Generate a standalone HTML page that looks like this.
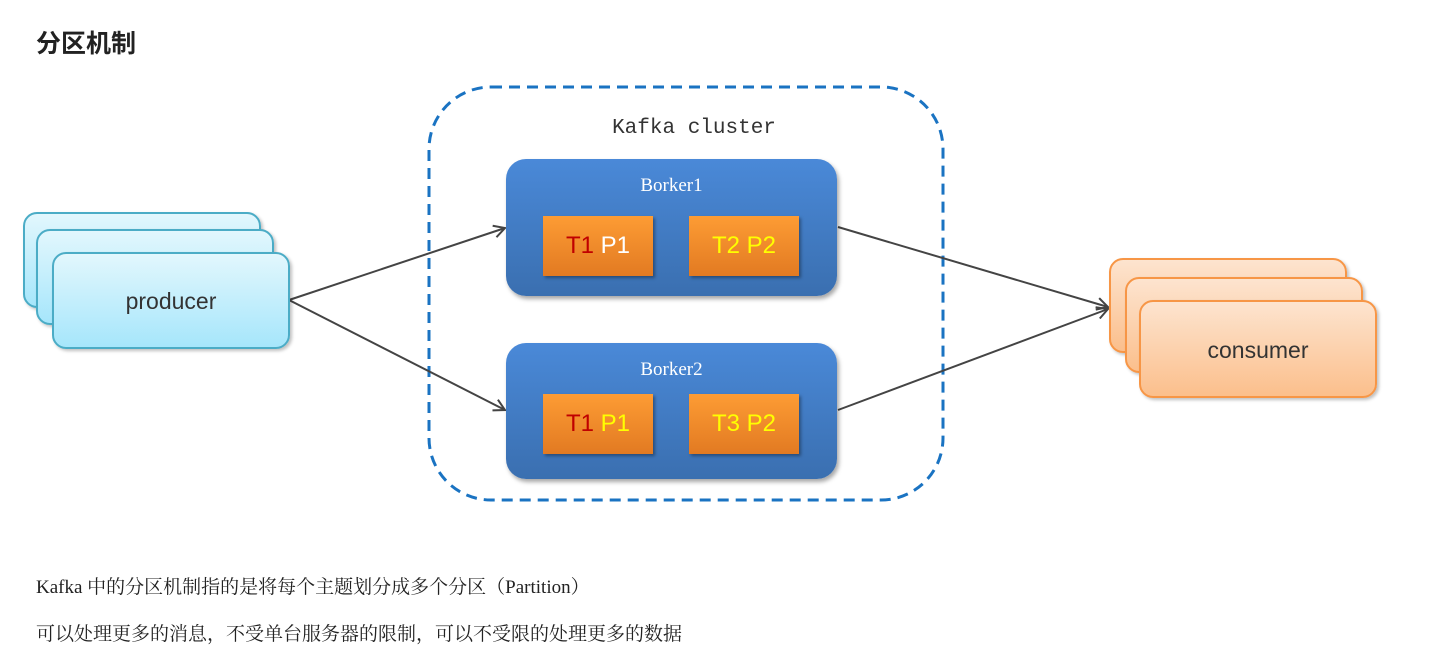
<!DOCTYPE html>
<html><head><meta charset="utf-8"><style>
body{margin:0;width:1434px;height:667px;background:#fff;position:relative;overflow:hidden;font-family:"Liberation Sans","Noto Sans CJK SC",sans-serif}
.a{position:absolute;box-sizing:border-box}
.p{border:2px solid #4bacc6;border-radius:14px;background:linear-gradient(#e2f7fd,#a6e6fb);box-shadow:2px 2px 3px rgba(0,0,0,.25)}
.c{border:2px solid #f79646;border-radius:14px;background:linear-gradient(#fde4cf,#fbbf8c);box-shadow:2px 2px 3px rgba(0,0,0,.25)}
.b{border-radius:20px;background:linear-gradient(#4a89d8,#3a6fb0);box-shadow:2px 3px 4px rgba(0,0,0,.35);color:#fff;font-family:"Liberation Serif","Noto Serif CJK SC",serif;font-size:19px;text-align:center;padding-top:16px}
.o{background:linear-gradient(#fd9c34,#e27a22);box-shadow:2px 2px 3px rgba(0,0,0,.35);font-size:24px;text-align:center;line-height:60px;width:110px;height:60px}
.t{font-family:"Liberation Serif","Noto Serif CJK SC",serif;font-size:19px;color:#222;position:absolute;left:36px;white-space:nowrap}
</style></head><body>
<div class="a" style="left:36px;top:24px;font-size:25px;font-weight:bold;color:#222;font-family:'Noto Sans CJK SC',sans-serif">分区机制</div>
<svg class="a" style="left:0;top:0" width="1434" height="667">
<rect x="429" y="87" width="514" height="413" rx="62" fill="none" stroke="#1a73c2" stroke-width="3" stroke-dasharray="11,7"/>
<defs><marker id="m" markerWidth="14" markerHeight="14" refX="12" refY="7" orient="auto" markerUnits="userSpaceOnUse"><path d="M1,1 L12,7 L1,13" fill="none" stroke="#444" stroke-width="2"/></marker></defs>
<g stroke="#444" stroke-width="2" fill="none" marker-end="url(#m)">
<line x1="289" y1="300" x2="505" y2="228"/>
<line x1="289" y1="300" x2="505" y2="410"/>
<line x1="838" y1="227" x2="1108" y2="307"/>
<line x1="838" y1="410" x2="1108" y2="309"/>
</g>
<text x="694" y="133" text-anchor="middle" font-family="Liberation Mono,monospace" font-size="21" fill="#333">Kafka cluster</text>
</svg>
<div class="a p" style="left:23px;top:212px;width:238px;height:96px"></div>
<div class="a p" style="left:36px;top:229px;width:238px;height:96px"></div>
<div class="a p" style="left:52px;top:252px;width:238px;height:97px;font-size:23px;color:#333;text-align:center;line-height:95px">producer</div>
<div class="a c" style="left:1109px;top:258px;width:238px;height:95px"></div>
<div class="a c" style="left:1125px;top:277px;width:238px;height:96px"></div>
<div class="a c" style="left:1139px;top:300px;width:238px;height:98px;font-size:23px;color:#333;text-align:center;line-height:96px">consumer</div>
<div class="a b" style="left:506px;top:159px;width:331px;height:137px">Borker1</div>
<div class="a b" style="left:506px;top:343px;width:331px;height:136px">Borker2</div>
<div class="a o" style="left:543px;top:216px"><span style="color:#c00000">T1</span> <span style="color:#fff">P1</span></div>
<div class="a o" style="left:689px;top:216px;color:#ffff00">T2 P2</div>
<div class="a o" style="left:543px;top:394px"><span style="color:#c00000">T1</span> <span style="color:#ffff00">P1</span></div>
<div class="a o" style="left:689px;top:394px;color:#ffff00">T3 P2</div>
<div class="t" style="top:572px">Kafka 中的分区机制指的是将每个主题划分成多个分区（Partition）</div>
<div class="t" style="top:619px">可以处理更多的消息，不受单台服务器的限制，可以不受限的处理更多的数据</div>
</body></html>
